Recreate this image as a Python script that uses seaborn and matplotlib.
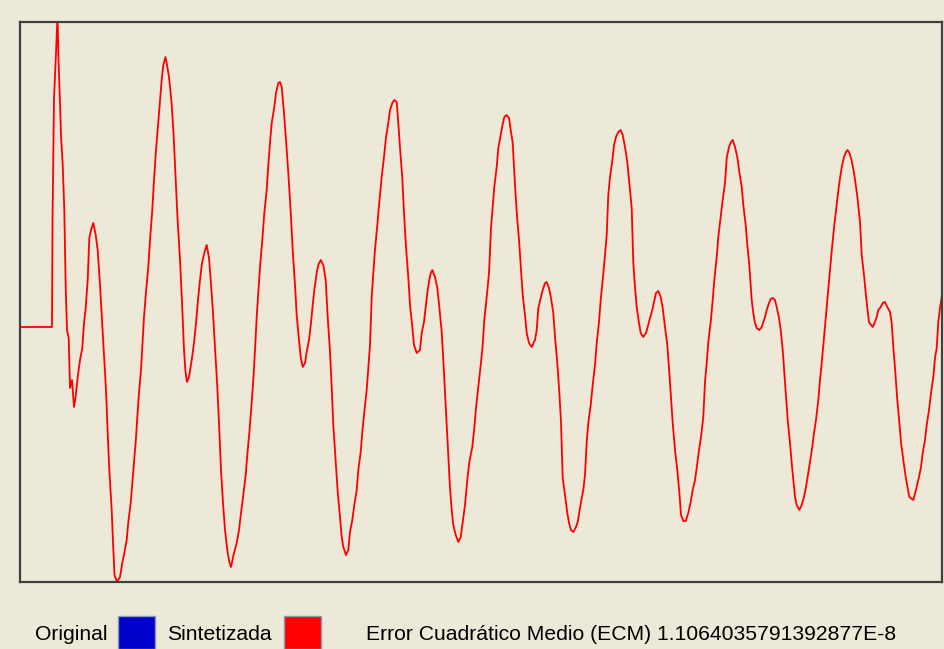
import numpy as np
import pandas as pd
import matplotlib
matplotlib.use("Agg")
import matplotlib.pyplot as plt
from matplotlib.patches import Rectangle
import seaborn as sns

# sample position and amplitude of the synthesized signal
t = [20, 52, 52.5, 54, 56, 57.5, 58.5, 60, 61, 62.7, 64.3, 65.7, 67, 68.7, 70, 72, 74, 75.5, 77.7, 80,
     82.3, 84, 85.7, 87.7, 89.3, 91, 93.3, 95.7, 97.7, 100, 102, 104.3, 106, 107.5, 109.3, 111.7, 113, 114.5, 117, 120,
     122.3, 124.3, 126.7, 128.3, 130.7, 132.3, 134, 136, 137.3, 139, 141, 142.3, 144, 146, 148.3, 150, 152.3, 154, 156, 158,
     160, 161.7, 163.3, 165.5, 167, 169, 171.5, 173.5, 175.5, 177.5, 180, 182, 184, 185.5, 187, 189, 191.7, 194, 196, 198,
     200, 202, 204.3, 206.7, 209, 210.7, 212.7, 215, 217.3, 219.3, 221, 223, 225, 227.3, 229.3, 231, 234, 236.7, 239, 241,
     243.3, 245.7, 247.3, 249.3, 251, 253.3, 255, 256.7, 258.3, 260, 262.3, 264.3, 266.7, 268.3, 270, 271.7, 274.3, 276, 278.3, 280,
     281.7, 284, 286, 288.3, 290.7, 292.7, 295, 296.7, 299, 300.7, 302.7, 305, 306.7, 309, 311, 312.7, 314.3, 316.7, 318.3, 320.7,
     323.3, 325.7, 327.7, 330, 331.7, 333.3, 335.7, 337.7, 340, 341.7, 343.3, 346, 348.3, 350, 352.3, 354.3, 356.7, 358.3, 360.7, 362.3,
     364.3, 366.7, 368.3, 370, 371.7, 373.3, 375, 377.3, 379.3, 381.7, 384, 386, 388.3, 390, 392.3, 394.3, 396.7, 398.3, 400, 402.3,
     404, 406, 408.3, 410, 412.3, 414, 416.7, 420, 421.7, 424, 425.7, 427.3, 429, 430.7, 432.3, 435, 437.3, 439.3, 441.7, 443.3,
     445, 446.7, 448.3, 450, 451.7, 453.3, 455.7, 458.3, 460.7, 462.7, 465, 467.3, 469.3, 472.3, 474.3, 476, 478.3, 480.7, 482.7, 484.3,
     486.7, 489, 491, 492.7, 494.3, 496.7, 498.3, 500.7, 502.7, 504.3, 506.7, 509, 511, 512.7, 515, 516.7, 519, 521, 522.7, 525,
     526.7, 529, 531.7, 535, 536.7, 538.3, 540.7, 542.7, 545, 546.7, 549, 551, 553.3, 555, 557.3, 559.3, 561, 562.7, 565, 567.3,
     569, 571, 573.3, 576, 577.7, 579.3, 581, 583.3, 585, 586.7, 588.3, 590.7, 592.7, 595, 596.7, 599, 600.7, 602.7, 605, 606.7,
     608.3, 610, 612.3, 614, 616, 618.3, 620.7, 622.7, 625, 627.3, 629.3, 631.7, 633.3, 635, 636.7, 639, 640.7, 643.3, 646, 647.7,
     650, 652.3, 654, 656, 658.3, 660.7, 662.7, 665, 667.3, 669.3, 671, 672.7, 675, 677.3, 679.3, 681, 683.3, 685.7, 688.3, 690.7,
     692.7, 695, 696.7, 699, 701, 703.3, 705, 706.7, 708.3, 710.7, 712.7, 714.3, 716.7, 718.3, 720.7, 722.7, 725, 726.7, 729, 731,
     732.7, 735, 737.3, 739.3, 741.7, 743.3, 745.7, 747.3, 749.3, 751.7, 753.3, 755, 756.7, 759.3, 761.7, 763.3, 765, 766.7, 769, 770.7,
     772.7, 775, 776.7, 779, 780.7, 782.7, 784.3, 786, 787.7, 790, 791.7, 793.3, 795, 796.7, 799.3, 801.7, 804, 806, 808.3, 810,
     812.3, 814, 816, 818.3, 820, 822, 824, 826, 828, 830, 832, 834, 836, 838, 840, 842, 844, 846, 847.5, 849.5,
     851.5, 853.5, 855.5, 857.5, 860, 861.7, 864, 865.7, 867.3, 869, 871, 872.7, 875, 876.7, 878.3, 880.7, 882.7, 885, 887.3, 890,
     891.7, 893.3, 895, 897.3, 899.3, 901, 903.3, 905.7, 907.7, 909.3, 913.3, 916.7, 919, 921, 922.7, 925, 926.7, 929, 931, 933.3,
     935, 936.7, 938.3, 940, 942]

amp = [0.00, 0.00, 1.06, 2.28, 2.74, 3.12, 2.67, 2.24, 1.92, 1.62, 1.17, 0.40, -0.03, -0.11, -0.61, -0.53, -0.80, -0.71, -0.50, -0.33,
       -0.21, 0.04, 0.19, 0.47, 0.89, 0.97, 1.04, 0.92, 0.77, 0.42, 0.07, -0.33, -0.63, -1.01, -1.43, -1.83, -2.15, -2.48, -2.55, -2.50,
       -2.36, -2.26, -2.13, -1.95, -1.76, -1.56, -1.35, -1.11, -0.90, -0.66, -0.43, -0.20, 0.10, 0.35, 0.60, 0.87, 1.17, 1.47, 1.77, 2.02,
       2.27, 2.47, 2.62, 2.70, 2.62, 2.50, 2.25, 1.94, 1.52, 1.09, 0.67, 0.25, -0.23, -0.45, -0.55, -0.50, -0.33, -0.16, 0.04, 0.27,
       0.47, 0.64, 0.74, 0.82, 0.69, 0.47, 0.19, -0.20, -0.60, -1.03, -1.43, -1.76, -2.03, -2.23, -2.35, -2.40, -2.26, -2.16, -2.03, -1.86,
       -1.68, -1.48, -1.28, -1.06, -0.85, -0.53, -0.23, 0.10, 0.35, 0.60, 0.87, 1.14, 1.37, 1.62, 1.84, 2.04, 2.20, 2.34, 2.44, 2.45,
       2.40, 2.14, 1.87, 1.54, 1.15, 0.77, 0.42, 0.12, -0.13, -0.30, -0.40, -0.36, -0.25, -0.13, 0.04, 0.22, 0.37, 0.54, 0.62, 0.67,
       0.62, 0.47, 0.10, -0.25, -0.60, -0.98, -1.35, -1.65, -1.90, -2.10, -2.20, -2.28, -2.23, -2.05, -1.93, -1.78, -1.63, -1.43, -1.25, -1.05,
       -0.85, -0.63, -0.41, -0.18, 0.30, 0.54, 0.77, 1.02, 1.25, 1.50, 1.70, 1.90, 2.04, 2.17, 2.24, 2.27, 2.25, 2.04, 1.79, 1.49,
       1.14, 0.80, 0.50, 0.22, 0.00, -0.18, -0.26, -0.23, -0.06, 0.05, 0.20, 0.34, 0.45, 0.54, 0.57, 0.50, 0.39, 0.20, -0.05, -0.33,
       -0.66, -0.98, -1.31, -1.61, -1.83, -1.98, -2.08, -2.15, -2.10, -1.95, -1.78, -1.53, -1.35, -1.20, -1.01, -0.81, -0.60, -0.38, -0.18, 0.07,
       0.30, 0.54, 0.99, 1.20, 1.40, 1.60, 1.79, 1.92, 2.03, 2.10, 2.12, 2.09, 1.95, 1.84, 1.42, 1.15, 0.87, 0.57, 0.32, 0.12,
       -0.06, -0.16, -0.20, -0.13, -0.03, 0.19, 0.29, 0.37, 0.44, 0.45, 0.39, 0.29, 0.14, -0.10, -0.36, -0.65, -0.95, -1.51, -1.68, -1.86,
       -1.96, -2.03, -2.05, -2.00, -1.95, -1.85, -1.75, -1.63, -1.48, -1.15, -0.96, -0.78, -0.58, -0.38, -0.16, 0.05, 0.27, 0.47, 0.72, 0.92,
       1.32, 1.50, 1.66, 1.82, 1.90, 1.95, 1.97, 1.92, 1.80, 1.65, 1.44, 1.19, 0.64, 0.40, 0.20, 0.04, -0.06, -0.10, -0.06, 0.00,
       0.09, 0.17, 0.25, 0.34, 0.36, 0.30, 0.19, 0.00, -0.18, -0.45, -0.71, -0.96, -1.23, -1.43, -1.65, -1.88, -1.94, -1.94, -1.86, -1.75,
       -1.63, -1.53, -1.41, -1.23, -1.10, -0.90, -0.55, -0.36, -0.15, 0.05, 0.27, 0.47, 0.70, 0.90, 1.10, 1.27, 1.44, 1.69, 1.80, 1.85,
       1.87, 1.80, 1.70, 1.55, 1.40, 1.22, 1.02, 0.82, 0.62, 0.27, 0.14, 0.04, -0.01, -0.03, 0.00, 0.05, 0.10, 0.17, 0.24, 0.28,
       0.29, 0.27, 0.20, 0.09, -0.03, -0.23, -0.45, -0.68, -0.93, -1.16, -1.36, -1.53, -1.70, -1.78, -1.83, -1.78, -1.70, -1.60, -1.46, -1.35,
       -1.20, -1.06, -0.93, -0.73, -0.53, -0.33, -0.11, 0.12, 0.35, 0.57, 0.79, 0.99, 1.17, 1.34, 1.49, 1.61, 1.70, 1.75, 1.77, 1.74,
       1.67, 1.57, 1.44, 1.29, 1.05, 0.72, 0.52, 0.34, 0.19, 0.05, 0.02, 0.00, 0.05, 0.10, 0.17, 0.20, 0.24, 0.25, 0.20, 0.15,
       0.04, -0.20, -0.41, -0.73, -0.95, -1.15, -1.33, -1.50, -1.61, -1.70, -1.73, -1.60, -1.50, -1.40, -1.26, -1.13, -0.98, -0.83, -0.66, -0.50,
       -0.31, -0.21, 0.05, 0.19, 0.32]

legend_labels = ["Original", "Sintetizada"]
legend_colors = ["#0000CC", "#FF0000"]
ecm_label = "Error Cuadrático Medio (ECM)"
ecm_value = "1.1064035791392877E-8"

W, H = 944, 649
BG = "#ECE9D8"

sns.set_style("white")
plt.rcParams["font.family"] = ["Liberation Sans", "DejaVu Sans"]

fig = plt.figure(figsize=(W / 100, H / 100), dpi=100, facecolor=BG)
ax = fig.add_axes([20 / W, (H - 582) / H, (942 - 20) / W, (582 - 22) / H])
ax.set_facecolor(BG)

df = pd.DataFrame({"t": t, "amp": amp})
sns.lineplot(data=df, x="t", y="amp", sort=False, estimator=None, color="#FF0000",
             linewidth=1.3, ax=ax, legend=False)

ax.set_xlim(20, 942)
ax.set_ylim(-2.55, 3.05)
ax.set_xticks([])
ax.set_yticks([])
ax.set_xlabel("")
ax.set_ylabel("")
for s in ax.spines.values():
    s.set_visible(True)
    s.set_color("#404040")
    s.set_linewidth(1.6)

# bottom legend row
ty = (H - 635) / H
fs = 15.2
fig.text(35 / W, ty, legend_labels[0], fontsize=fs, va="center", ha="left", color="black")
fig.text(167 / W, ty, legend_labels[1], fontsize=fs, va="center", ha="left", color="black")
fig.text(366 / W, ty, f"{ecm_label} {ecm_value}", fontsize=fs, va="center", ha="left", color="black")
for x0, c in [(118, legend_colors[0]), (284, legend_colors[1])]:
    fig.patches.append(Rectangle((x0 / W, 0), 37 / W, (H - 616) / H, transform=fig.transFigure,
                                 facecolor=c, edgecolor="#8899BB", linewidth=1.0))

fig.savefig("out.png", dpi=100, facecolor=BG)
